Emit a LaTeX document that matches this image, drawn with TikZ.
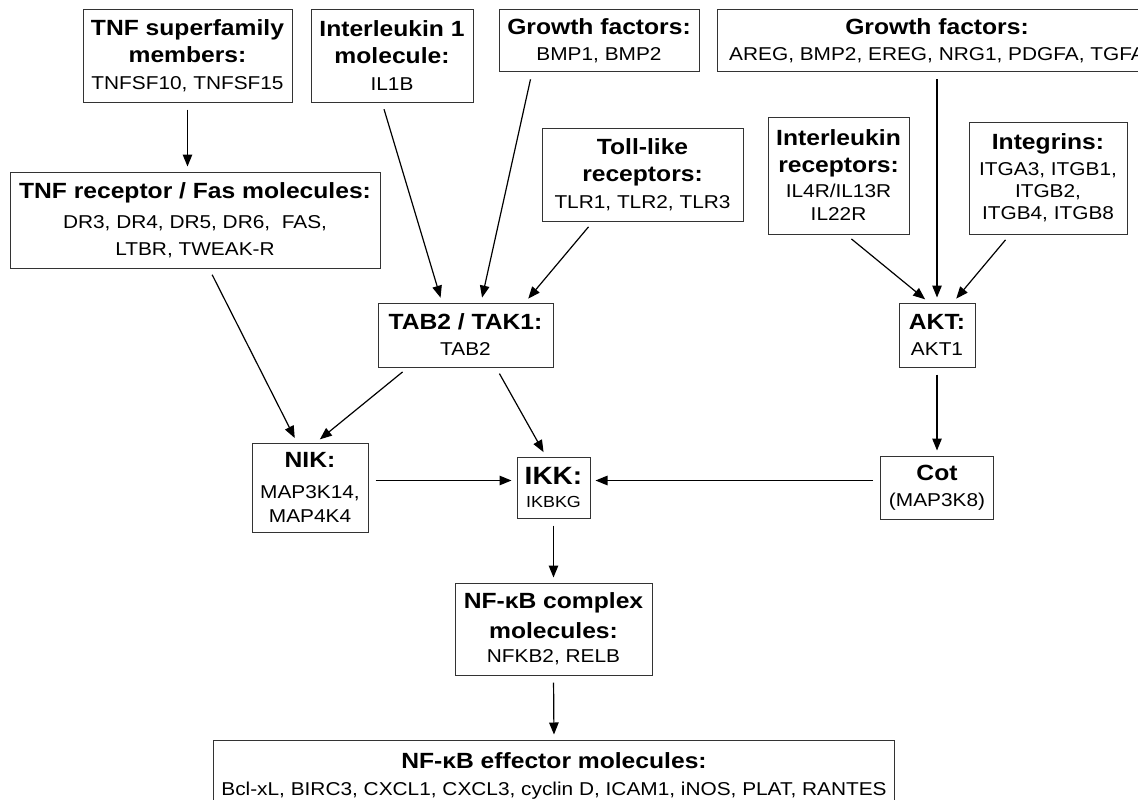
\documentclass[tikz,border=0pt]{standalone}
\usepackage{fontspec}
\setmainfont[FakeStretch=1.12]{Liberation Sans}
\usetikzlibrary{arrows.meta}
\newcommand{\hd}[1]{{\fontsize{22}{27}\selectfont\bfseries #1}}

\begin{document}
\begin{tikzpicture}[x=1pt,y=-1pt,
  mol/.style={draw=black!80, line width=1pt, align=center, inner sep=0pt,
    font=\fontsize{18.6}{27}\selectfont},
  arr/.style={-{Triangle[length=12pt,width=9.5pt]}, line width=1.2pt,
    shorten <=7pt, shorten >=5pt}]
\clip (0,0) rectangle (1138,800);

% receptors and ligands
\node[mol, minimum width=209pt, minimum height=92pt] (tnfs) at (187.5,56)
  {\hd{TNF superfamily}\\ \hd{members:}\\ TNFSF10, TNFSF15};
\node[mol, minimum width=162pt, minimum height=92pt] (il1) at (392,56)
  {\hd{Interleukin 1}\\ \hd{molecule:}\\ IL1B};
\node[mol, minimum width=200pt, minimum height=62pt] (gfs) at (599,41)
  {\hd{Growth factors:}\\[-1pt] BMP1, BMP2};
\node[mol, minimum width=440pt, minimum height=62pt] (gfb) at (937,41)
  {\hd{Growth factors:}\\[-1pt] AREG, BMP2, EREG, NRG1, PDGFA, TGFA};
\node[mol, minimum width=370pt, minimum height=96pt] (tnfr) at (195,220)
  {\hd{TNF receptor / Fas molecules:}\\[3pt] DR3, DR4, DR5, DR6,\ \ FAS,\\ LTBR, TWEAK-R};
\node[mol, minimum width=201pt, minimum height=93pt] (toll) at (642.5,174.5)
  {\hd{Toll-like}\\ \hd{receptors:}\\ TLR1, TLR2, TLR3};
\node[mol, minimum width=141pt, minimum height=117pt] (ilr) at (838.5,175.5)
  {\hd{Interleukin}\\ \hd{receptors:}\\[-2pt] IL4R/IL13R\\[-4pt] IL22R};
\node[mol, minimum width=158pt, minimum height=112pt] (itg) at (1048,178)
  {\hd{Integrins:}\\[-1pt] ITGA3, ITGB1,\\[-5pt] ITGB2,\\[-5pt] ITGB4, ITGB8};

% kinases
\node[mol, minimum width=175pt, minimum height=64pt] (tab) at (465.5,335)
  {\hd{TAB2 / TAK1:}\\[-1pt] TAB2};
\node[mol, minimum width=76pt, minimum height=64pt] (akt) at (937,335)
  {\hd{AKT:}\\[-1pt] AKT1};
\node[mol, minimum width=116pt, minimum height=89pt] (nik) at (310,487.5)
  {\hd{NIK:}\\[4pt] MAP3K14,\\[-3pt] MAP4K4};
\node[mol, minimum width=73pt, minimum height=61pt] (ikk) at (553.5,487.5)
  {{\fontsize{25}{27}\selectfont\bfseries IKK:}\\[-4pt] {\fontsize{16}{27}\selectfont IKBKG}};
\node[mol, minimum width=113pt, minimum height=63pt] (cot) at (937,487.5)
  {\hd{Cot}\\[-1pt] (MAP3K8)};

% NF-kB
\node[mol, minimum width=197pt, minimum height=92pt] (nfkb) at (553.5,629)
  {\hd{NF-κB complex}\\[3pt] \hd{molecules:}\\[-3pt] NFKB2, RELB};
\node[mol, minimum width=681pt, minimum height=72pt] (eff) at (554,776)
  {\hd{NF-κB effector molecules:}\\ Bcl-xL, BIRC3, CXCL1, CXCL3, cyclin D, ICAM1, iNOS, PLAT, RANTES};

\draw[arr] (tnfs.south) -- (tnfs.south |- tnfr.north);
\draw[arr] ([xshift=14pt]tnfr.south) -- ([xshift=-13pt]nik.north);
\draw[arr] ([xshift=-10pt]il1.south) -- ([xshift=-23.5pt]tab.north);
\draw[arr] ([xshift=-67pt]gfs.south) -- ([xshift=15.5pt]tab.north);
\draw[arr] ([xshift=-49.5pt]toll.south) -- ([xshift=59.5pt]tab.north);
\draw[arr] ([xshift=-57.5pt]tab.south) -- ([xshift=6pt]nik.north);
\draw[arr] ([xshift=30.5pt]tab.south) -- ([xshift=-7.5pt]ikk.north);
\draw[arr] ([yshift=7pt]nik.east) -- ([yshift=7pt]ikk.west);
\draw[arr] ([yshift=7pt]cot.west) -- ([yshift=7pt]ikk.east);
\draw[arr] (gfb.south) -- (akt.north);
\draw[arr] ([xshift=7.5pt]ilr.south) -- ([xshift=-8pt]akt.north);
\draw[arr] ([xshift=-38pt]itg.south) -- ([xshift=16pt]akt.north);
\draw[arr] (akt.south) -- (cot.north);
\draw[arr] (ikk.south) -- (nfkb.north);
\draw[arr] (nfkb.south) -- (eff.north);
\end{tikzpicture}
\end{document}
